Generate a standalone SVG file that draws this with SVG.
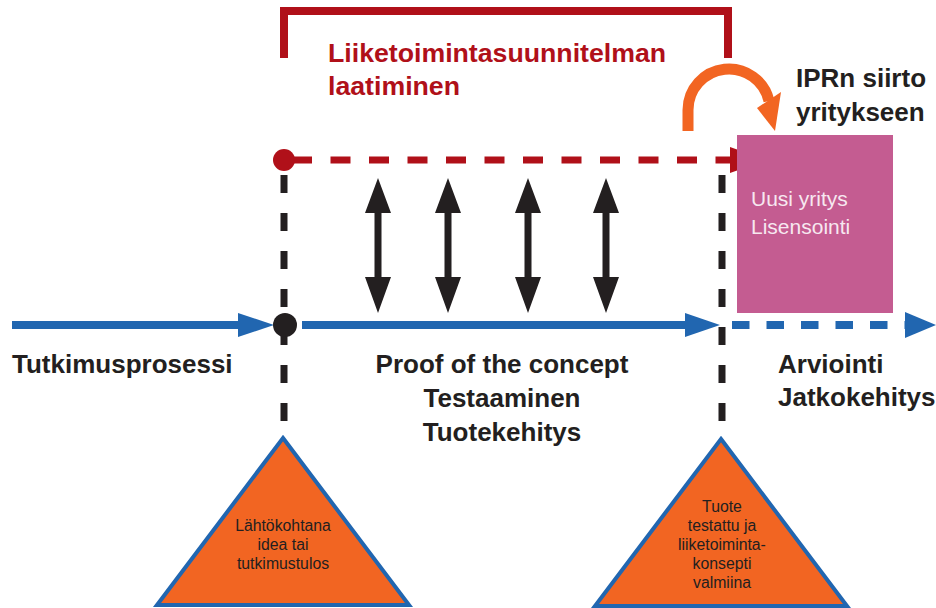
<svg xmlns="http://www.w3.org/2000/svg" width="936" height="608" viewBox="0 0 936 608">
  <style>
    .lbl { font-family: "Liberation Sans", Arial, sans-serif; font-weight: bold; font-size: 26px; fill: #231F20; }
    .red { fill: #B01019; font-size: 26.7px; }
    .small { font-family: "Liberation Sans", Arial, sans-serif; font-size: 15.8px; fill: #231F20; text-anchor: middle; }
    .pink { font-family: "Liberation Sans", Arial, sans-serif; font-size: 21px; fill: #F7E8F0; }
    .tri { fill: #F26522; stroke: #2166B0; stroke-width: 4; stroke-linejoin: miter; }
    .vdash { stroke: #231F20; stroke-width: 7; stroke-dasharray: 18 20; fill: none; }
    .blue { stroke: #2166B0; stroke-width: 8; fill: none; }
    .bluehead { fill: #2166B0; }
    .dbl { fill: #231F20; }
  </style>

  <g id="connectors">
    <!-- red bracket -->
    <path d="M284,58 V11 H728 V58" fill="none" stroke="#B01019" stroke-width="8"/>
    <!-- vertical dashed lines -->
    <line class="vdash" x1="284" y1="175" x2="284" y2="440"/>
    <line class="vdash" x1="722" y1="175" x2="722" y2="440"/>
    <!-- red dashed line with arrowhead -->
    <line x1="292" y1="160" x2="730" y2="160" stroke="#B01019" stroke-width="7" stroke-dasharray="20 18.5"/>
    <polygon points="730,147 767,160 730,173" fill="#B01019"/>
    <!-- blue process line -->
    <line class="blue" x1="12" y1="325" x2="242" y2="325"/>
    <polygon class="bluehead" points="238,313 274,325 238,337"/>
    <line class="blue" x1="302" y1="325" x2="688" y2="325"/>
    <polygon class="bluehead" points="685,313 720,325 685,337"/>
    <line class="blue" x1="732" y1="325" x2="906" y2="325" stroke-dasharray="17.5 17"/>
    <polygon class="bluehead" points="905,312 936,325 905,338"/>
    <!-- double arrows -->
    <g class="dbl">
      <polygon points="378,178 391,213 381.5,213 381.5,277 391,277 378,313 365,277 374.5,277 374.5,213 365,213"/>
      <polygon points="448,178 461,213 451.5,213 451.5,277 461,277 448,313 435,277 444.5,277 444.5,213 435,213"/>
      <polygon points="528,178 541,213 531.5,213 531.5,277 541,277 528,313 515,277 524.5,277 524.5,213 515,213"/>
      <polygon points="606,178 619,213 609.5,213 609.5,277 619,277 606,313 593,277 602.5,277 602.5,213 593,213"/>
    </g>
    <!-- dots -->
    <circle cx="284" cy="160" r="11" fill="#B01019"/>
    <circle cx="285" cy="325" r="12" fill="#231F20"/>
    <!-- orange curved arrow -->
    <path d="M688,131 V110 A41,41 0 0 1 769,101" fill="none" stroke="#F26522" stroke-width="11"/>
    <polygon points="757,108 781,92 775,131" fill="#F26522"/>
  </g>

  <g id="title">
    <text class="lbl red" x="328" y="62">Liiketoimintasuunnitelman</text>
    <text class="lbl red" x="328" y="95">laatiminen</text>
  </g>

  <g id="ipr">
    <text class="lbl" x="796" y="87">IPRn siirto</text>
    <text class="lbl" x="796" y="121">yritykseen</text>
  </g>

  <g id="new-company">
    <rect x="737" y="135" width="156" height="178" fill="#C45C91"/>
    <text class="pink" x="751" y="206">Uusi yritys</text>
    <text class="pink" x="751" y="234">Lisensointi</text>
  </g>

  <g id="research">
    <text class="lbl" x="12" y="373">Tutkimusprosessi</text>
  </g>

  <g id="proof">
    <text class="lbl" x="502" y="373" text-anchor="middle">Proof of the concept</text>
    <text class="lbl" x="502" y="407" text-anchor="middle">Testaaminen</text>
    <text class="lbl" x="502" y="441" text-anchor="middle">Tuotekehitys</text>
  </g>

  <g id="evaluation">
    <text class="lbl" x="778" y="373">Arviointi</text>
    <text class="lbl" x="778" y="406">Jatkokehitys</text>
  </g>

  <g id="start-triangle">
    <polygon class="tri" points="283,438 409,605 157,605"/>
    <text class="small" x="283" y="531">Lähtökohtana</text>
    <text class="small" x="283" y="550">idea tai</text>
    <text class="small" x="283" y="569">tutkimustulos</text>
  </g>

  <g id="end-triangle">
    <polygon class="tri" points="721,439 847,606 595,606"/>
    <text class="small" x="722" y="512">Tuote</text>
    <text class="small" x="722" y="531">testattu ja</text>
    <text class="small" x="722" y="550">liiketoiminta-</text>
    <text class="small" x="722" y="569">konsepti</text>
    <text class="small" x="722" y="588">valmiina</text>
  </g>
</svg>
